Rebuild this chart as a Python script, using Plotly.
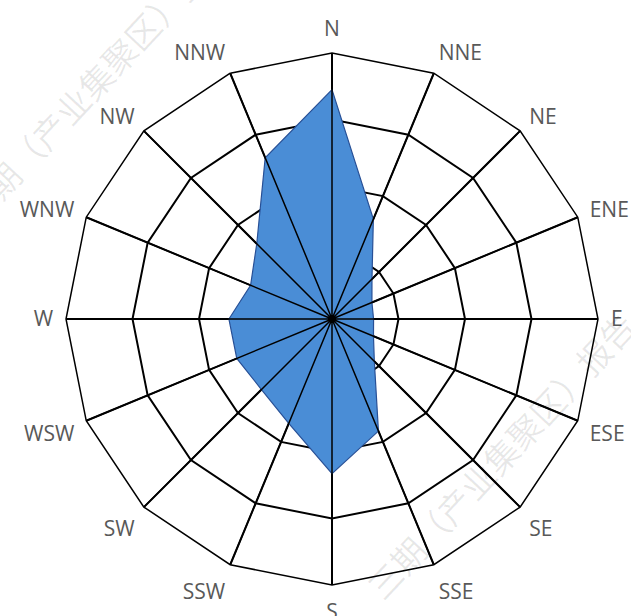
import plotly.graph_objects as go

# Wind direction frequencies (%) for the 16 compass points
directions = ["N", "NNE", "NE", "ENE", "E", "ESE", "SE", "SSE",
              "S", "SSW", "SW", "WSW", "W", "WNW", "NW", "NNW"]
frequency = [13.8, 6.5, 3.4, 2.6, 2.5, 2.7, 3.6, 7.3,
             9.3, 6.8, 6.0, 6.2, 6.2, 5.3, 6.4, 10.5]
ring_values = [4, 8, 12, 16]
r_max = 16

fig = go.Figure()

# Filled frequency polygon (closed by repeating the first point)
fig.add_trace(go.Scatterpolar(
    r=frequency + frequency[:1],
    theta=directions + directions[:1],
    mode="lines",
    fill="toself",
    fillcolor="rgb(74,141,214)",
    line=dict(color="rgb(40,80,150)", width=1.2),
    hoverinfo="skip",
))

# Direction spokes drawn over the filled area
spoke_r, spoke_theta = [], []
for d in directions:
    spoke_r += [0, r_max]
    spoke_theta += [d, d]
fig.add_trace(go.Scatterpolar(
    r=spoke_r,
    theta=spoke_theta,
    mode="lines",
    line=dict(color="black", width=1.5),
    hoverinfo="skip",
))

# Hub where the spokes meet
fig.add_trace(go.Scatterpolar(
    r=[0], theta=[directions[0]],
    mode="markers",
    marker=dict(color="black", size=8),
    hoverinfo="skip",
))

fig.update_layout(
    width=631,
    height=616,
    margin=dict(l=0, r=0, t=0, b=0),
    paper_bgcolor="white",
    showlegend=False,
    polar=dict(
        domain=dict(x=[0.1046, 0.9477], y=[0.0503, 0.9140]),
        bgcolor="white",
        gridshape="linear",
        radialaxis=dict(
            range=[0, r_max],
            tickvals=ring_values,
            showticklabels=False,
            ticks="",
            showline=False,
            showgrid=True,
            gridcolor="black",
            gridwidth=1.5,
        ),
        angularaxis=dict(
            type="category",
            categoryorder="array",
            categoryarray=directions,
            direction="clockwise",
            rotation=90,
            showline=True,
            linecolor="black",
            linewidth=1.5,
            showgrid=True,
            gridcolor="black",
            gridwidth=1.5,
            ticks="outside",
            ticklen=8,
            tickcolor="rgba(0,0,0,0)",
            tickfont=dict(family="Open Sans", size=21, color="#595959"),
        ),
    ),
)

# Faint diagonal watermark text
watermark = "三期（产业集聚区）报告"
for (x, y) in [(95, 80), (500, 455)]:
    fig.add_annotation(
        x=x / 631, y=1 - y / 616, xref="paper", yref="paper",
        xanchor="center", yanchor="middle",
        text=watermark, showarrow=False, textangle=-47,
        font=dict(family="Noto Sans CJK SC", size=34, color="rgba(0,0,0,0.09)"),
    )

fig.write_html("out.html")
